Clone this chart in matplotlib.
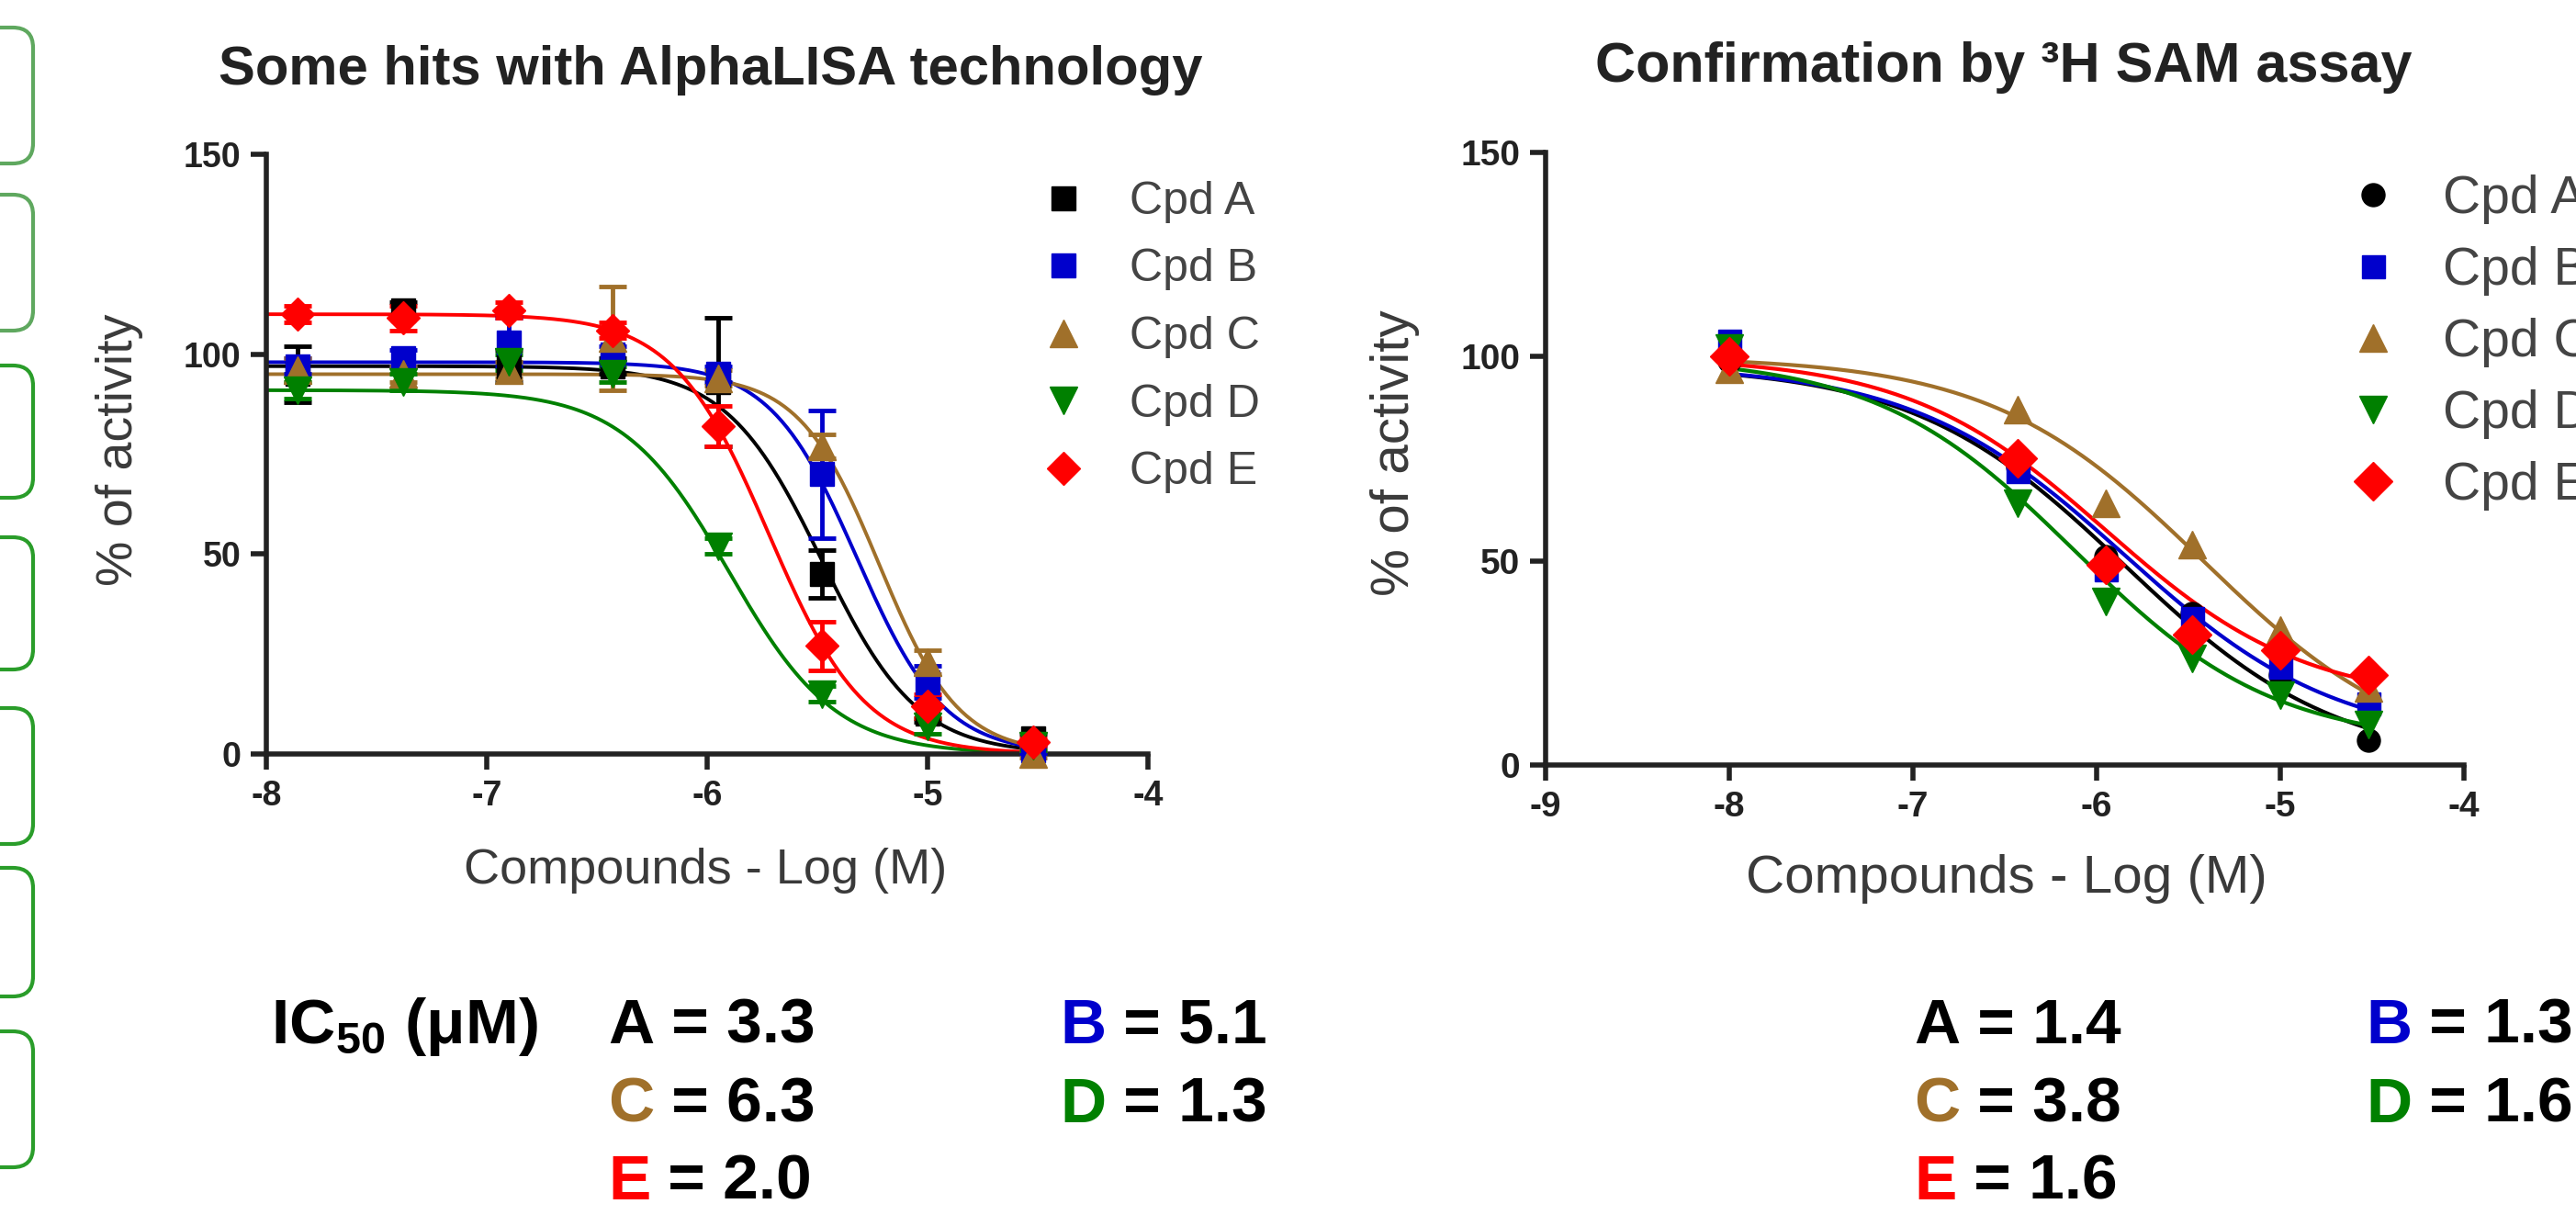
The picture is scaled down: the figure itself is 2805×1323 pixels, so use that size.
import matplotlib
matplotlib.use('Agg')
import matplotlib.pyplot as plt
import numpy as np
from matplotlib.lines import Line2D
from matplotlib.patches import FancyBboxPatch
from matplotlib.transforms import IdentityTransform

plt.rcParams['font.family'] = ['Liberation Sans', 'DejaVu Sans']
plt.rcParams['axes.unicode_minus'] = False
plt.rcParams['mathtext.fontset'] = 'custom'
plt.rcParams['mathtext.bf'] = 'Liberation Sans:bold'
plt.rcParams['mathtext.rm'] = 'Liberation Sans'

# ---- data ----
compounds = ['Cpd A', 'Cpd B', 'Cpd C', 'Cpd D', 'Cpd E']
letters = ['A', 'B', 'C', 'D', 'E']
colors = ['#000000', '#0000CC', '#A0702A', '#008000', '#FF0000']

# AlphaLISA screen (log M, 3-fold dilution from 30 uM)
x_alpha = [-7.86, -7.38, -6.90, -6.43, -5.95, -5.48, -5.00, -4.52]
alpha_A = [95, 111, 97, 97, 93, 45, 10, 4]
alpha_B = [97, 99, 103, 100, 95, 70, 18, 1]
alpha_C = [96, 95, 96, 104, 94, 77, 23, 0]
alpha_D = [91, 93, 98, 95, 52, 15, 7, 2]
alpha_E = [110, 109, 111, 106, 82, 27, 12, 3]
alpha_A_err = [7, 2, 4, 2, 16, 6, 2, 1]
alpha_B_err = [2, 2, 6, 2, 2, 16, 4, 1]
alpha_C_err = [3, 2, 2, 13, 2, 3, 3, 1]
alpha_D_err = [2, 2, 2, 2, 2, 2, 2, 1]
alpha_E_err = [2, 3, 2, 2, 5, 6, 3, 1]
# fitted curves: top, bottom, logIC50, hill slope
alpha_fit = [(97, 0, -5.48, 2.0), (98, 0, -5.32, 2.2), (95, 0, -5.22, 2.4),
             (91, 0, -5.90, 1.8), (110, 0, -5.72, 2.0)]
alpha_ic50 = ['3.3', '5.1', '6.3', '1.3', '2.0']

# 3H SAM confirmation
x_sam = [-8.0, -6.43, -5.95, -5.48, -5.00, -4.52]
sam_A = [99, 73, 51, 37, 22, 6]
sam_B = [104, 72, 48, 36, 24, 15]
sam_C = [97, 87, 64, 54, 33, 19]
sam_D = [102, 64, 40, 26, 17, 10]
sam_E = [100, 75, 49, 32, 28, 22]
sam_fit = [(98, 0, -5.85, 0.75), (98, 5, -5.85, 0.75), (100, 0, -5.42, 0.75),
           (100, 5, -6.12, 0.8), (100, 15, -5.95, 0.8)]
sam_ic50 = ['1.4', '1.3', '3.8', '1.6', '1.6']


def hill(x, top, bottom, logic50, n):
    return bottom + (top - bottom) / (1 + 10 ** (n * (x - logic50)))


W, H = 2805, 1323
fig = plt.figure(figsize=(W / 100, H / 100), dpi=100)

# green rounded tabs cut by the left edge
tabs = [(30, 178), (212, 360), (398, 542), (585, 729), (771, 919), (945, 1085), (1123, 1271)]
for i, (t, b) in enumerate(tabs):
    col = '#5fa85f' if i < 2 else '#2a9d2a'
    p = FancyBboxPatch((-60, H - b), 96, b - t, boxstyle='round,pad=0,rounding_size=22',
                       transform=IdentityTransform(), fill=False, ec=col, lw=3)
    fig.add_artist(p)

axL = fig.add_axes([290 / W, 1 - 821 / H, 960 / W, 653 / H])
axR = fig.add_axes([1683 / W, 1 - 833 / H, 1000 / W, 667 / H])


def style(ax, xticks, fs):
    ax.set_xlim(xticks[0], xticks[-1])
    ax.set_ylim(0, 150)
    ax.patch.set_visible(False)
    for s in ['top', 'right']:
        ax.spines[s].set_visible(False)
    for s in ['left', 'bottom']:
        ax.spines[s].set_linewidth(4)
        ax.spines[s].set_color('#222222')
    ax.set_xticks(xticks)
    ax.set_yticks([0, 50, 100, 150])
    ax.tick_params(width=4, length=12, labelsize=fs, colors='#222222', pad=8)
    for lab in ax.get_xticklabels() + ax.get_yticklabels():
        lab.set_fontweight('bold')


style(axL, [-8, -7, -6, -5, -4], 27)
style(axR, [-9, -8, -7, -6, -5, -4], 28)

# left panel
alpha_vals = [alpha_A, alpha_B, alpha_C, alpha_D, alpha_E]
alpha_errs = [alpha_A_err, alpha_B_err, alpha_C_err, alpha_D_err, alpha_E_err]
markersL = ['s', 's', '^', 'v', 'D']
msL = [19, 19, 22, 22, 18]
xs = np.linspace(-8, x_alpha[-1], 300)
for vals, err, fit, c, m, ms in zip(alpha_vals, alpha_errs, alpha_fit, colors, markersL, msL):
    axL.plot(xs, hill(xs, *fit), color=c, lw=2.8, zorder=2)
    axL.errorbar(x_alpha, vals, yerr=err, fmt=m, color=c, ms=ms, mec=c,
                 capsize=11, elinewidth=3.5, capthick=3.5, clip_on=False, zorder=3)

# right panel
sam_vals = [sam_A, sam_B, sam_C, sam_D, sam_E]
markersR = ['o', 's', '^', 'v', 'D']
msR = [18, 18, 22, 22, 21]
xs = np.linspace(-8, x_sam[-1], 300)
for vals, fit, c, m, ms in zip(sam_vals, sam_fit, colors, markersR, msR):
    axR.plot(xs, hill(xs, *fit), color=c, lw=3, zorder=2)
    axR.plot(x_sam, vals, m, color=c, ms=ms, mec=c, clip_on=False, zorder=3)

# legends
hL = [Line2D([], [], marker=m, ls='none', color=c, mec=c, ms=ms)
      for m, c, ms in zip(markersL, colors, msL)]
fig.legend(hL, compounds, loc='upper left', bbox_to_anchor=(1133 / W, 1 - 197 / H),
           frameon=False, fontsize=36, handlelength=1.0, handletextpad=0.94,
           labelspacing=0.55, borderpad=0, borderaxespad=0, labelcolor='#444444')
hR = [Line2D([], [], marker=m, ls='none', color=c, mec=c, ms=ms)
      for m, c, ms in zip(markersR, colors, msR)]
fig.legend(hR, compounds, loc='upper left', bbox_to_anchor=(2556 / W, 1 - 190 / H),
           frameon=False, fontsize=41, handlelength=1.0, handletextpad=0.82,
           labelspacing=0.42, borderpad=0, borderaxespad=0, labelcolor='#444444')

# titles and axis labels
fig.text(774 / W, 1 - 77 / H, 'Some hits with AlphaLISA technology', ha='center', va='center',
         fontsize=43, fontweight='bold', color='#222222')
fig.text(2182 / W, 1 - 74 / H, 'Confirmation by \u00b3H SAM assay', ha='center', va='center',
         fontsize=44, fontweight='bold', color='#222222')
fig.text(768 / W, 1 - 948 / H, 'Compounds - Log (M)', ha='center', va='center',
         fontsize=39, color='#3a3a3a')
fig.text(2185 / W, 1 - 957 / H, 'Compounds - Log (M)', ha='center', va='center',
         fontsize=42, color='#3a3a3a')
fig.text(130 / W, 1 - 490 / H, '% of activity', ha='center', va='center', rotation=90,
         fontsize=40, color='#3a3a3a')
fig.text(1519 / W, 1 - 493 / H, '% of activity', ha='center', va='center', rotation=90,
         fontsize=42, color='#3a3a3a')

# IC50 summary
fig.text(295 / W, 1 - 1118 / H, r'IC$_{\mathbf{50}}$ ($\mathbf{\mu}$M)', ha='left', va='center',
         fontsize=50, fontweight='bold', color='#000000')

rows = [1118, 1204, 1288]
slots = [(0, 0), (0, 1), (1, 0), (1, 1), (2, 0)]


def ic50_block(x_cols, values):
    for (r, cidx), let, c, v in zip(slots, letters, colors, values):
        t = fig.text(x_cols[cidx] / W, 1 - rows[r] / H, let, ha='left', va='center',
                     fontsize=50, fontweight='bold', color=c)
        axL.annotate(' = ' + v, xy=(1, 0), xycoords=t, va='bottom', ha='left',
                     fontsize=50, fontweight='bold', color='#000000', annotation_clip=False)


ic50_block([662, 1154], alpha_ic50)
ic50_block([2084, 2576], sam_ic50)

fig.savefig('out.png', dpi=100)
